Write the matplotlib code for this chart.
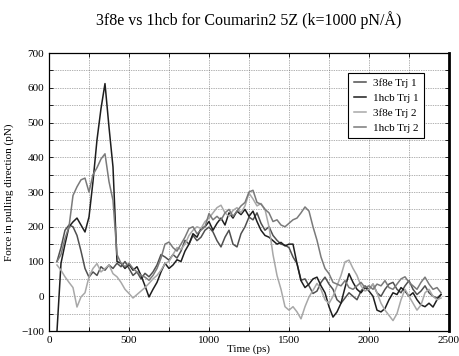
import numpy as np
import matplotlib
matplotlib.use("Agg")
import matplotlib.pyplot as plt
from matplotlib.ticker import MultipleLocator

plt.rcParams["font.family"] = ["Liberation Serif", "DejaVu Serif"]

# Simulation time (ps), sampled every 25 ps
time_ps = np.arange(50, 2451, 25)

labels = ["3f8e Trj 1", "1hcb Trj 1", "3f8e Trj 2", "1hcb Trj 2"]
colors = ["#505050", "#1e1e1e", "#a8a8a8", "#7a7a7a"]

f3f8e_trj1 = [
    100, 140, 190, 205, 200, 175, 130, 80, 55, 70,
    60, 85, 75, 90, 80, 95, 85, 100, 80, 60,
    70, 50, 66, 56, 70, 90, 120, 113, 104, 120,
    110, 130, 161, 150, 175, 160, 170, 190, 199, 185,
    160, 142, 170, 190, 150, 142, 180, 200, 228, 220,
    240, 210, 190, 200, 175, 161, 150, 147, 140, 113,
    94, 46, 50, 30, 8, 15, 40, 55, 35, 20,
    -10, -20, -5, 10, 0, -10, 15, 30, 20, 35,
    10, 0, 20, 35, 40, 20, 10, 30, 45, 20,
    5, 15, 30, 10, 0, -5, 5,
]

f1hcb_trj1 = [
    -100, 95, 150, 200, 214, 225, 205, 185, 228, 330,
    450, 540, 612, 487, 372, 100, 95, 80, 92, 75,
    85, 60, 30, -2, 20, 40, 70, 95, 80, 90,
    105, 100, 130, 150, 180, 170, 195, 200, 215, 190,
    210, 225, 205, 240, 225, 245, 235, 250, 230, 245,
    215, 190, 175, 170, 160, 150, 155, 145, 150, 150,
    94, 45, 25, 35, 50, 55, 30, 10, -30, -60,
    -45, -20, 25, 65, 40, 20, 10, 25, 15, 0,
    -40, -45, -35, -10, 10, 5, 25, 15, 0, 10,
    -10, -25, -30, -20, -31, -10, 5,
]

f3f8e_trj2 = [
    90, 75, 56, 40, 25, -31, -2, 10, 56, 80,
    94, 70, 80, 90, 65, 56, 40, 20, 8, -5,
    5, 15, 25, 37, 50, 60, 75, 94, 100, 120,
    140, 135, 150, 175, 190, 200, 195, 215, 225, 240,
    255, 262, 240, 230, 247, 255, 240, 260, 297, 280,
    260, 267, 250, 200, 120, 60, 20, -30, -40, -30,
    -45, -65, -30, -2, 17, 37, 20, -10, -21, 0,
    30, 60, 99, 104, 80, 60, 30, 15, 20, 35,
    10, -20, -40, -55, -70, -50, -10, 20, 0, -20,
    -40, -25, 10, 20, 0, -10, -5,
]

f1hcb_trj2 = [
    100, 120, 166, 200, 290, 315, 335, 340, 300, 350,
    370, 395, 410, 330, 276, 120, 95, 85, 95, 80,
    70, 60, 55, 46, 60, 80, 110, 150, 156, 140,
    130, 150, 170, 195, 200, 180, 190, 200, 238, 220,
    230, 219, 240, 250, 230, 245, 260, 270, 300, 305,
    270, 265, 250, 240, 215, 220, 205, 200, 210, 220,
    225, 240, 257, 245, 200, 161, 113, 80, 65, 40,
    35, 30, 45, 25, 20, 30, 40, 25, 30, 20,
    35, 30, 45, 25, 20, 35, 50, 56, 40, 30,
    20, 40, 55, 35, 20, 25, 10,
]

series = [f3f8e_trj1, f1hcb_trj1, f3f8e_trj2, f1hcb_trj2]

fig = plt.figure(figsize=(4.6, 3.56), dpi=100)
ax = fig.add_axes([0.1065, 0.0702, 0.8696, 0.7809])

for vals, lab, col in zip(series, labels, colors):
    ax.plot(time_ps, vals, color=col, lw=1.1, label=lab)

ax.set_xlim(0, 2500)
ax.set_ylim(-100, 700)
ax.xaxis.set_major_locator(MultipleLocator(500))
ax.xaxis.set_minor_locator(MultipleLocator(250))
ax.yaxis.set_major_locator(MultipleLocator(100))
ax.yaxis.set_minor_locator(MultipleLocator(50))
ax.grid(True, which="both", ls=(0, (1, 1.5)), color="#666666", lw=0.5)
ax.tick_params(which="both", direction="in", top=True, right=True, labelsize=8, length=3, width=0.6)
for s in ax.spines.values():
    s.set_linewidth(0.9)
ax.spines["right"].set_linewidth(2.0)

ax.set_xlabel("Time (ps)", fontsize=8, labelpad=0)
ax.set_ylabel("Force in pulling direction (pN)", fontsize=8, labelpad=5)
ax.set_title("3f8e vs 1hcb for Coumarin2 5Z (k=1000 pN/Å)", fontsize=11.5, pad=20)

leg = ax.legend(loc="upper right", bbox_to_anchor=(0.9375, 0.928), borderaxespad=0,
                fontsize=8, frameon=True, fancybox=False, edgecolor="black", framealpha=1,
                handlelength=1.1, handletextpad=0.6, borderpad=0.5, labelspacing=0.45)
leg.get_frame().set_linewidth(0.8)

fig.savefig("out.png", dpi=100)
